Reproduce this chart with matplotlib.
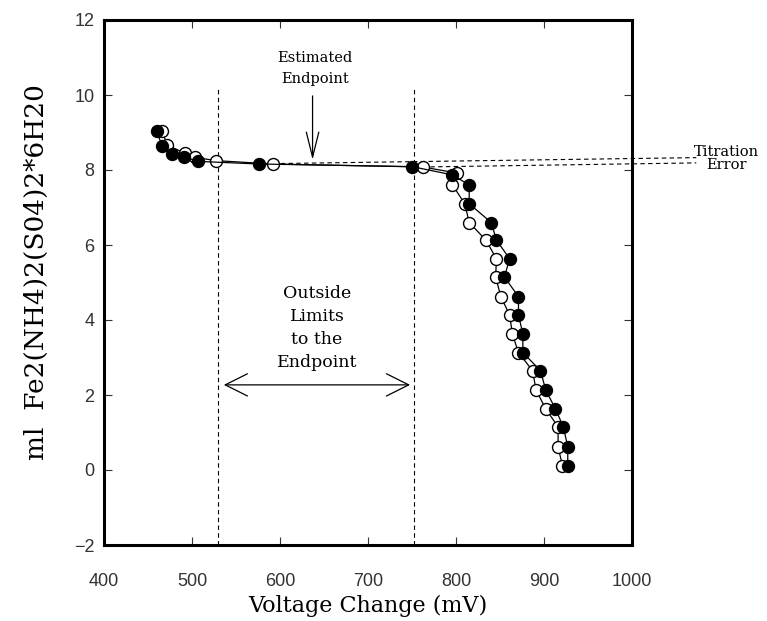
import matplotlib
matplotlib.use('Agg')
import matplotlib.pyplot as plt

# ---- data ----
filled_v = [460, 466, 477, 491, 507, 576, 750, 796, 815, 815, 840, 846, 861, 855,
            871, 871, 876, 876, 896, 902, 913, 922, 927, 927]
filled_y = [9.03, 8.64, 8.43, 8.35, 8.23, 8.16, 8.09, 7.87, 7.6, 7.1, 6.6, 6.13, 5.63, 5.15,
            4.62, 4.13, 3.63, 3.13, 2.65, 2.13, 1.63, 1.15, 0.62, 0.11]
open_v = [466, 472, 492, 503, 527, 592, 762, 801, 796, 810, 815, 834, 846, 845,
          851, 861, 864, 871, 887, 891, 902, 916, 916, 921]
open_y = [9.03, 8.66, 8.45, 8.34, 8.25, 8.16, 8.08, 7.92, 7.6, 7.1, 6.6, 6.13, 5.63, 5.15,
          4.62, 4.13, 3.63, 3.13, 2.65, 2.13, 1.63, 1.15, 0.62, 0.11]
xticks = [400, 500, 600, 700, 800, 900, 1000]
yticks = [-2, 0, 2, 4, 6, 8, 10, 12]
limit_lines = [530, 752]
endpoint_v = 637
xlabel = 'Voltage Change (mV)'
ylabel = 'ml  Fe2(NH4)2(S04)2*6H20'

SERIF = 'DejaVu Serif'
TICKF = 'Liberation Sans'

fig = plt.figure(figsize=(7.67, 6.21), dpi=100)
ax = fig.add_axes([104/767, 76/621, 528/767, 525/621])
ax.set_xlim(400, 1000)
ax.set_ylim(-2, 12)

for s in ax.spines.values():
    s.set_linewidth(2.2)

ax.set_xticks(xticks)
ax.set_yticks(yticks)
ax.tick_params(direction='in', length=6, width=0.8, top=True, right=True,
               labelsize=13, colors='#333333')
ax.tick_params(axis='x', pad=20)
ax.tick_params(axis='y', pad=7)
for lab in ax.get_xticklabels() + ax.get_yticklabels():
    lab.set_fontfamily(TICKF)

ax.set_xlabel(xlabel, family=SERIF, fontsize=16, labelpad=4)
ax.set_ylabel(ylabel, family=SERIF, fontsize=19)
ax.yaxis.set_label_coords(-0.104, 0.52)

# dashed limit lines
for v in limit_lines:
    ax.plot([v, v], [-2, 10.2], color='k', lw=0.8, ls=(0, (4, 3)), zorder=2)

# titration error dashed lines
ax.plot([592, 1073], [8.17, 8.33], color='k', lw=0.8, ls=(0, (4, 3)), clip_on=False, zorder=2)
ax.plot([762, 1073], [8.08, 8.19], color='k', lw=0.8, ls=(0, (4, 3)), clip_on=False, zorder=2)
ax.text(1107, 8.48, 'Titration', family=SERIF, fontsize=10.5, ha='center', va='center')
ax.text(1107, 8.13, 'Error', family=SERIF, fontsize=10.5, ha='center', va='center')

# series
ax.plot(open_v, open_y, '-', color='k', lw=0.9, marker='o', mfc='white', mec='k',
        ms=8.6, mew=1.0, zorder=3)
ax.plot(filled_v, filled_y, '-', color='k', lw=0.9, marker='o', mfc='k', mec='k',
        ms=8.6, mew=1.0, zorder=4)

# estimated endpoint arrow
ax.annotate('', xy=(endpoint_v, 8.2), xytext=(endpoint_v, 10.05),
            arrowprops=dict(arrowstyle='->,head_length=1.8,head_width=0.45', lw=0.9, color='k'))
ax.text(endpoint_v + 3, 11.0, 'Estimated', family=SERIF, fontsize=10.5, ha='center', va='center')
ax.text(endpoint_v + 3, 10.42, 'Endpoint', family=SERIF, fontsize=10.5, ha='center', va='center')

# outside limits double arrow
ax.annotate('', xy=(533, 2.27), xytext=(751, 2.27),
            arrowprops=dict(arrowstyle='<->,head_length=1.6,head_width=0.8', lw=0.9, color='k'))
for txt, yy in zip(['Outside', 'Limits', 'to the', 'Endpoint'], [4.7, 4.1, 3.48, 2.87]):
    ax.text(642, yy, txt, family=SERIF, fontsize=12.5, ha='center', va='center')

fig.savefig('out.png', dpi=100)
